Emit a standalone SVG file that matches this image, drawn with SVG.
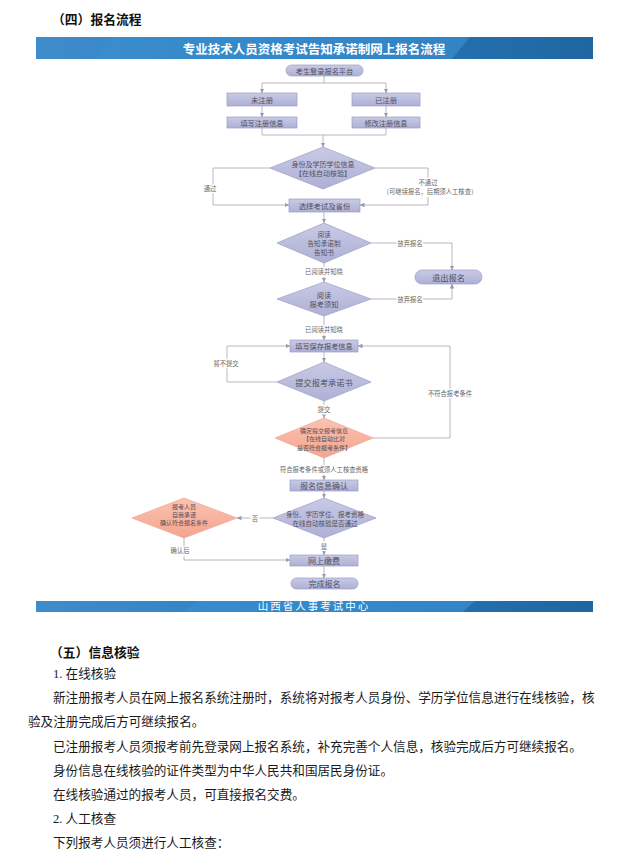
<svg xmlns="http://www.w3.org/2000/svg" width="640" height="860" viewBox="0 0 640 860">
<defs>
<style>
.nd{fill:url(#lav);stroke:#9a9cc8;stroke-width:0.7}
.pk{fill:url(#pink);stroke:#f0a590;stroke-width:0.7}
.nt{font-family:"Noto Sans CJK SC","Noto Sans",sans-serif;fill:#505060;text-anchor:middle;dominant-baseline:central}
.lb{font-family:"Noto Sans CJK SC","Noto Sans",sans-serif;fill:#666;font-size:6.3px;text-anchor:middle;dominant-baseline:central;stroke:#fff;stroke-width:2.5;paint-order:stroke}
.cn{fill:none;stroke:#a5a5b0;stroke-width:0.8}
.ar{marker-end:url(#ah)}
.body{font-family:"Liberation Serif","Noto Sans CJK SC",serif;font-size:12.6px;fill:#1a1a1a;dominant-baseline:central}
.hd{font-family:"Noto Sans CJK SC","Liberation Sans",sans-serif;font-size:12.8px;font-weight:bold;fill:#111;dominant-baseline:central}
</style>
<linearGradient id="lav" x1="0" y1="0" x2="0" y2="1">
<stop offset="0" stop-color="#c9cae5"/><stop offset="1" stop-color="#aeb0d5"/>
</linearGradient>
<linearGradient id="pink" x1="0" y1="0" x2="0" y2="1">
<stop offset="0" stop-color="#fbc3b1"/><stop offset="1" stop-color="#f4a48d"/>
</linearGradient>
<linearGradient id="ban" x1="0" y1="0" x2="1" y2="0">
<stop offset="0" stop-color="#3f8ccb"/><stop offset="0.45" stop-color="#2f80c2"/><stop offset="0.75" stop-color="#2876b7"/><stop offset="1" stop-color="#1f67a2"/>
</linearGradient>
<marker id="ah" markerUnits="userSpaceOnUse" markerWidth="5" markerHeight="5" refX="4.5" refY="2.5" orient="auto">
<path d="M0,0.3 L4.8,2.5 L0,4.7 z" fill="#9a9aa8"/>
</marker>
</defs>
<rect width="640" height="860" fill="#fff"/>

<text class="hd" x="52" y="18">（四）报名流程</text>

<g id="top-banner">
<rect x="36" y="37" width="557" height="22" fill="url(#ban)"/>
<polygon points="110,37 470,37 452,59 92,59" fill="#3a8fd0" opacity="0.55"/>
<polygon points="470,37 593,37 593,59 452,59" fill="#1f66a0" opacity="0.4"/>
<text x="314" y="48" font-family="Noto Sans CJK SC,sans-serif" font-size="12.5" font-weight="bold" fill="#fff" text-anchor="middle" dominant-baseline="central">专业技术人员资格考试告知承诺制网上报名流程</text>
</g>

<g id="connectors">
<path class="cn" d="M324,76 V83 M262,83 H386"/>
<path class="cn ar" d="M262,83 V93"/>
<path class="cn ar" d="M386,83 V93"/>
<path class="cn ar" d="M262,106 V117"/>
<path class="cn ar" d="M386,106 V117"/>
<path class="cn" d="M262,128 V135 H386 M386,128 V135"/>
<path class="cn ar" d="M323,135 V147"/>
<path class="cn ar" d="M270,168 H213 V205 H289"/>
<path class="cn ar" d="M375,168 H428 V205 H360"/>
<path class="cn ar" d="M324,212 V223"/>
<path class="cn ar" d="M371,243 H452 V270"/>
<path class="cn ar" d="M324,263 V282"/>
<path class="cn ar" d="M371,299 H452 V284"/>
<path class="cn ar" d="M324,316 V340"/>
<path class="cn ar" d="M324,352 V362"/>
<path class="cn ar" d="M277,382 H227 V346 H290"/>
<path class="cn ar" d="M324,401 V418"/>
<path class="cn ar" d="M373,438 H450 V346 H358"/>
<path class="cn ar" d="M324,458 V480"/>
<path class="cn ar" d="M324,491 V498"/>
<path class="cn ar" d="M273,518 H237"/>
<path class="cn ar" d="M184,538 V560 H290"/>
<path class="cn ar" d="M324,538 V555"/>
<path class="cn ar" d="M324,566 V578"/>
<text class="lb" x="210" y="188">通过</text>
<text class="lb" x="428" y="182.5">不通过</text>
<text class="lb" x="430" y="191">（可继续报名，后期须人工核查）</text>
<text class="lb" x="410" y="243">放弃报名</text>
<text class="lb" x="324" y="271">已阅读并知晓</text>
<text class="lb" x="410" y="299">放弃报名</text>
<text class="lb" x="324" y="329">已阅读并知晓</text>
<text class="lb" x="226" y="363">暂不提交</text>
<text class="lb" x="450" y="393">不符合报考条件</text>
<text class="lb" x="324" y="409">提交</text>
<text class="lb" x="324" y="469">符合报考条件或须人工核查资格</text>
<text class="lb" x="255" y="518">否</text>
<text class="lb" x="324" y="546">是</text>
<text class="lb" x="180" y="550">确认后</text>
</g>

<g id="n-login"><rect class="nd" x="286" y="65" width="77" height="11" rx="5.5"/><text class="nt" x="324.5" y="70.5" font-size="7.2">考生登录报名平台</text></g>
<g id="n-unreg"><rect class="nd" x="227" y="93" width="70" height="13"/><text class="nt" x="262" y="99.5" font-size="7.4">未注册</text></g>
<g id="n-reg"><rect class="nd" x="352" y="93" width="68" height="13"/><text class="nt" x="386" y="99.5" font-size="7.4">已注册</text></g>
<g id="n-fill-reg"><rect class="nd" x="227" y="117" width="70" height="11"/><text class="nt" x="262" y="122.5" font-size="7.2">填写注册信息</text></g>
<g id="n-edit-reg"><rect class="nd" x="352" y="117" width="68" height="11"/><text class="nt" x="386" y="122.5" font-size="7.2">修改注册信息</text></g>
<g id="n-check"><polygon class="nd" points="323,147 375,168 323,189 270,168"/><text class="nt" x="323" y="163.5" font-size="7">身份及学历学位信息</text><text class="nt" x="323" y="173" font-size="7">【在线自动核验】</text></g>
<g id="n-read1"><polygon class="nd" points="324,223 371,243 324,263 277,243"/><text class="nt" x="324" y="234" font-size="6.6">阅读</text><text class="nt" x="324" y="243" font-size="6.6">告知承诺制</text><text class="nt" x="324" y="252" font-size="6.6">告知书</text></g>
<g id="n-select"><rect class="nd" x="289" y="199" width="71" height="13"/><text class="nt" x="324.5" y="205.5" font-size="7.4">选择考试及省份</text></g>
<g id="n-exit"><rect class="nd" x="415" y="270" width="67" height="14" rx="7"/><text class="nt" x="448.5" y="277" font-size="8.2">退出报名</text></g>
<g id="n-read2"><polygon class="nd" points="324,282 371,299 324,316 277,299"/><text class="nt" x="324" y="294.5" font-size="7.2">阅读</text><text class="nt" x="324" y="304" font-size="7.2">报考须知</text></g>
<g id="n-save"><rect class="nd" x="290" y="340" width="68" height="12"/><text class="nt" x="324" y="346" font-size="7.2">填写保存报考信息</text></g>
<g id="n-submit"><polygon class="nd" points="324,362 371,382 324,401 277,382"/><text class="nt" x="324" y="382" font-size="8.2">提交报考承诺书</text></g>
<g id="n-confirm-submit"><polygon class="pk" points="324,418 373,438 324,458 275,438"/><text class="nt" x="324" y="430" font-size="6">确定提交报考信息</text><text class="nt" x="324" y="438.5" font-size="6">【在线自动比对</text><text class="nt" x="324" y="447" font-size="6">是否符合报考条件】</text></g>
<g id="n-info-confirm"><rect class="nd" x="290" y="480" width="68" height="11"/><text class="nt" x="324" y="485.5" font-size="8">报名信息确认</text></g>
<g id="n-verify"><polygon class="nd" points="324,498 376,518 324,538 273,518"/><text class="nt" x="325" y="513.5" font-size="6.5">身份、学历学位、报考资格</text><text class="nt" x="325" y="522.5" font-size="6.5">在线自动核验是否通过</text></g>
<g id="n-self"><polygon class="pk" points="184,498 237,518 184,538 132,518"/><text class="nt" x="184" y="506" font-size="6">报考人员</text><text class="nt" x="184" y="514" font-size="6">自我承诺</text><text class="nt" x="184" y="522" font-size="6">确认符合报名条件</text></g>
<g id="n-pay"><rect class="nd" x="290" y="555" width="68" height="11"/><text class="nt" x="324" y="560.5" font-size="8">网上缴费</text></g>
<g id="n-done"><rect class="nd" x="291" y="578" width="67" height="11" rx="5.5"/><text class="nt" x="324.5" y="583.5" font-size="8">完成报名</text></g>

<g id="bottom-banner">
<rect x="36" y="601" width="557" height="11" fill="url(#ban)"/>
<polygon points="196,601 475,601 463,612 184,612" fill="#3a8fd0" opacity="0.6"/>
<polygon points="475,601 593,601 593,612 463,612" fill="#1f66a0" opacity="0.4"/>
<text x="314" y="606.5" font-family="Liberation Serif,Noto Sans CJK SC,serif" font-size="10.5" fill="#fff" text-anchor="middle" dominant-baseline="central" letter-spacing="2">山西省人事考试中心</text>
</g>

<text class="hd" x="50" y="651">（五）信息核验</text>
<text class="body" x="53" y="674">1. 在线核验</text>
<text class="body" x="53" y="698">新注册报考人员在网上报名系统注册时，系统将对报考人员身份、学历学位信息进行在线核验，核</text>
<text class="body" x="28" y="722">验及注册完成后方可继续报名。</text>
<text class="body" x="53" y="747">已注册报考人员须报考前先登录网上报名系统，补充完善个人信息，核验完成后方可继续报名。</text>
<text class="body" x="53" y="771">身份信息在线核验的证件类型为中华人民共和国居民身份证。</text>
<text class="body" x="53" y="795">在线核验通过的报考人员，可直接报名交费。</text>
<text class="body" x="53" y="819">2. 人工核查</text>
<text class="body" x="53" y="843">下列报考人员须进行人工核查：</text>
</svg>
